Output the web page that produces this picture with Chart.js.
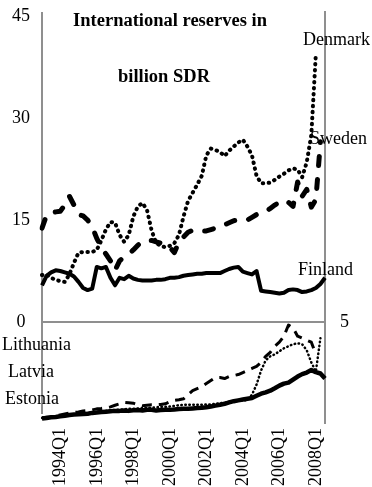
<!DOCTYPE html>
<html>
<head>
<meta charset="utf-8">
<script src="https://cdn.jsdelivr.net/npm/chart.js@4.4.0/dist/chart.umd.min.js"></script>
<style>
  html, body { margin: 0; padding: 0; background: #fff; }
</style>
</head>
<body>
<canvas id="reserves" width="372" height="487"></canvas>
<script>
// quarterly categories, 1993Q1 .. 2008Q3
const quarters = [];
for (let y = 1993; y <= 2008; y++) for (let q = 1; q <= 4; q++) quarters.push(y + 'Q' + q);
quarters.length = 63;

// billion SDR, left scale
const denmark = [6.9, 7.0, 6.5, 6.2, 6.0, 5.9, 7.0, 8.7, 10.2, 10.3, 10.3, 10.3, 10.6, 12.0, 13.6, 14.7,
  14.6, 12.8, 11.8, 12.8, 15.5, 17.0, 17.5, 16.5, 13.5, 11.6, 11.2, 11.0, 11.2, 11.6, 12.8, 15.5,
  17.8, 19.0, 20.2, 21.5, 24.5, 25.5, 25.3, 25.0, 24.4, 25.2, 25.8, 26.4, 26.8, 25.8, 24.5, 21.5,
  20.4, 20.4, 20.5, 20.9, 21.4, 21.8, 22.3, 22.6, 22.4, 21.3, 23.5, 27.5, 39.5, null, null];
const sweden = [13.8, 15.7, 16.0, 16.2, 16.3, 17.2, 18.5, 17.2, 15.8, 15.6, 15.0, 14.0, 12.3, 11.0, 10.0, 9.0,
  7.6, 9.0, 9.6, 10.0, 10.6, 11.3, 11.8, 12.0, 12.0, 11.8, 11.6, 11.3, 11.0, 10.2, 11.8, 12.5,
  13.2, 13.5, 13.5, 13.4, 13.4, 13.6, 13.8, 14.0, 14.3, 14.6, 14.9, 15.0, 15.0, 15.0, 15.4, 15.8,
  16.0, 16.2, 16.7, 17.2, 17.6, 17.9, 17.6, 17.0, 20.6, 18.5, 19.5, 16.9, 18.0, 26.5, null];
const finland = [5.4, 6.8, 7.3, 7.6, 7.5, 7.3, 7.1, 6.7, 5.9, 5.0, 4.7, 4.9, 8.1, 7.9, 8.1, 6.5,
  5.4, 6.5, 6.3, 6.8, 6.4, 6.2, 6.1, 6.1, 6.1, 6.2, 6.2, 6.3, 6.5, 6.5, 6.6, 6.8,
  6.9, 7.0, 7.1, 7.1, 7.2, 7.2, 7.2, 7.2, 7.5, 7.8, 8.0, 8.1, 7.4, 7.2, 7.0, 7.5,
  4.6, 4.5, 4.4, 4.3, 4.2, 4.3, 4.7, 4.8, 4.7, 4.4, 4.5, 4.7, 5.0, 5.6, 6.5];

// billion SDR, right scale
const lithuania = [0.25, 0.28, 0.3, 0.35, 0.4, 0.45, 0.5, 0.52, 0.55, 0.6, 0.62, 0.65, 0.7, 0.72, 0.75, 0.8,
  0.88, 0.95, 1.02, 1.0, 0.98, 0.9, 0.85, 0.88, 0.9, 0.9, 0.92, 0.95, 1.05, 1.12, 1.15, 1.2,
  1.4, 1.6, 1.7, 1.8, 1.95, 2.1, 2.25, 2.25, 2.2, 2.3, 2.35, 2.4, 2.5, 2.6, 2.7, 2.8,
  3.0, 3.3, 3.5, 3.8, 4.0, 4.3, 4.85, 4.7, 4.3, 4.2, 4.1, 4.0, 3.4, null, null];
const latvia = [0.25, 0.27, 0.3, 0.32, 0.35, 0.38, 0.4, 0.42, 0.45, 0.48, 0.5, 0.52, 0.55, 0.58, 0.6, 0.62,
  0.65, 0.66, 0.68, 0.7, 0.7, 0.72, 0.74, 0.75, 0.76, 0.78, 0.8, 0.8, 0.82, 0.85, 0.88, 0.9,
  0.9, 0.9, 0.9, 0.9, 0.92, 0.92, 0.95, 0.98, 1.0, 1.05, 1.08, 1.1, 1.1, 1.15, 1.4, 1.9,
  2.6, 3.1, 3.3, 3.4, 3.55, 3.7, 3.8, 3.9, 3.95, 3.9, 3.6, 3.0, 2.55, 4.2, null];
const estonia = [0.22, 0.25, 0.28, 0.3, 0.33, 0.36, 0.4, 0.42, 0.43, 0.45, 0.46, 0.5, 0.52, 0.54, 0.56, 0.58,
  0.6, 0.6, 0.62, 0.6, 0.63, 0.64, 0.62, 0.66, 0.65, 0.62, 0.64, 0.66, 0.65, 0.67, 0.69, 0.7,
  0.7, 0.72, 0.74, 0.75, 0.78, 0.82, 0.86, 0.9, 0.95, 1.02, 1.08, 1.12, 1.16, 1.2, 1.24, 1.35,
  1.45, 1.52, 1.6, 1.72, 1.85, 1.95, 2.0, 2.15, 2.3, 2.42, 2.5, 2.62, 2.52, 2.45, 2.2];

const leftTicks = [0, 15, 30, 45];
const rightTicks = [5];
const titleLines = ['International reserves in', 'billion SDR'];

const serif = '"Liberation Serif", "Times New Roman", serif';
const axisGray = '#8f8f8f';

// name labels written next to the lines
const seriesNotes = [
  ['Denmark', 303, 40],
  ['Sweden', 310, 139],
  ['Finland', 298, 270],
  ['Lithuania', 2, 345],
  ['Latvia', 8, 372],
  ['Estonia', 5, 399]
];

const notes = {
  id: 'notes',
  beforeDatasetsDraw(chart) {
    // left frame line stops a little above the bottom of the plot
    const { ctx, chartArea } = chart;
    ctx.save();
    ctx.strokeStyle = axisGray;
    ctx.lineWidth = 2;
    ctx.beginPath();
    ctx.moveTo(chartArea.left, chartArea.top);
    ctx.lineTo(chartArea.left, chartArea.bottom - 9);
    ctx.stroke();
    ctx.restore();
  },
  afterDatasetsDraw(chart) {
    const ctx = chart.ctx;
    ctx.save();
    ctx.fillStyle = '#000';
    ctx.textBaseline = 'middle';
    ctx.textAlign = 'center';
    ctx.font = 'bold 18.5px ' + serif;
    ctx.fillText(titleLines[0], 170, 21);
    ctx.fillText(titleLines[1], 164, 77);
    ctx.font = '18px ' + serif;
    ctx.textAlign = 'left';
    seriesNotes.forEach(([t, x, y]) => ctx.fillText(t, x, y));
    ctx.restore();
  }
};

function line(label, data, axis, width, dash, cap) {
  return {
    label, data, yAxisID: axis,
    borderColor: '#000', backgroundColor: '#000',
    borderWidth: width, borderDash: dash, borderCapStyle: cap, borderJoinStyle: 'round',
    pointRadius: 0, tension: 0, spanGaps: false
  };
}

// fixed axis sizes; label padding must not push the plot area down
function fixSize(w, h) {
  return s => {
    if (w) s.width = w;
    if (h) s.height = h;
    s.paddingTop = 0; s.paddingBottom = 0; s.paddingLeft = 0; s.paddingRight = 0;
  };
}

new Chart(document.getElementById('reserves'), {
  type: 'line',
  data: {
    labels: quarters,
    datasets: [
      line('Denmark', denmark, 'y', 4, [0.5, 5.5], 'round'),
      line('Sweden', sweden, 'y', 5, [9, 14], 'round'),
      line('Finland', finland, 'y', 4, [], 'butt'),
      line('Lithuania', lithuania, 'y2', 3, [10, 7], 'butt'),
      line('Latvia', latvia, 'y2', 2.5, [0.5, 3.5], 'round'),
      line('Estonia', estonia, 'y2', 4.5, [], 'butt')
    ]
  },
  options: {
    responsive: false,
    animation: false,
    layout: { padding: { top: 12, left: 0, right: 0, bottom: 0 } },
    plugins: { legend: { display: false }, tooltip: { enabled: false }, title: { display: false } },
    scales: {
      x: {
        type: 'category',
        offset: false,
        grid: { display: false, drawTicks: false },
        border: { display: false },
        ticks: {
          autoSkip: false, minRotation: 90, maxRotation: 90, padding: 5,
          color: '#000', font: { family: serif, size: 18 },
          callback: (v, i) => (i % 8 === 4 ? quarters[i] : '')
        },
        afterFit: fixSize(0, 64)
      },
      y: {
        position: 'left',
        min: -14.85, max: 45.59,
        afterBuildTicks: s => { s.ticks = leftTicks.map(v => ({ value: v })); },
        grid: { display: false, drawTicks: false },
        border: { display: false },
        ticks: { color: '#000', font: { family: serif, size: 18 }, crossAlign: 'center', padding: 12 },
        afterFit: fixSize(42, 0)
      },
      y2: {
        position: 'right',
        min: 0, max: 20.35,
        afterBuildTicks: s => { s.ticks = rightTicks.map(v => ({ value: v })); },
        grid: { display: true, drawTicks: false, drawOnChartArea: true, color: axisGray, lineWidth: 2 },
        border: { display: true, color: axisGray, width: 2 },
        ticks: { color: '#000', font: { family: serif, size: 18 }, padding: 15 },
        afterFit: fixSize(47, 0)
      }
    }
  },
  plugins: [notes]
});
</script>
</body>
</html>
